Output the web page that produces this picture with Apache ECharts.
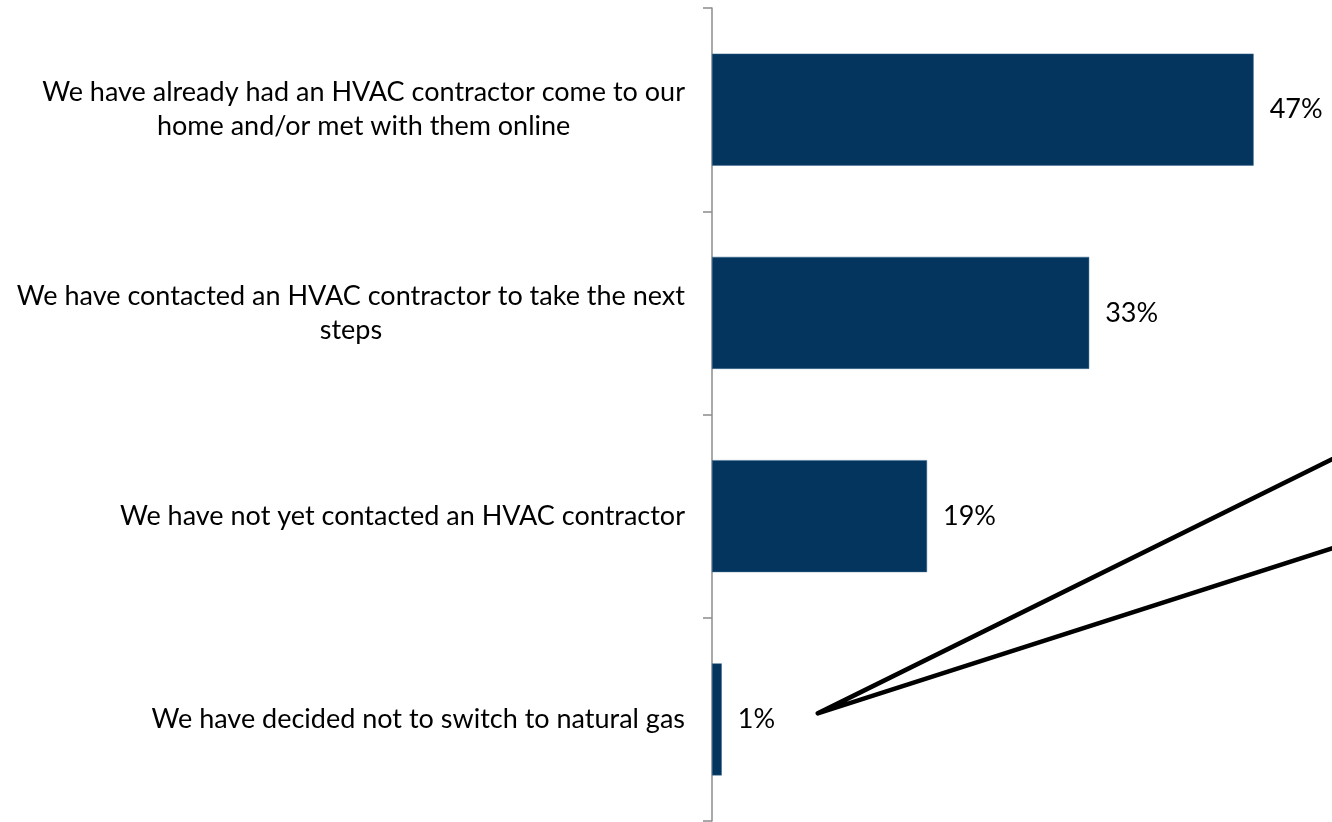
<!DOCTYPE html>
<html>
<head>
<meta charset="utf-8">
<script src="https://cdn.jsdelivr.net/npm/echarts@6/dist/echarts.min.js"></script>
<style>
  html, body { margin: 0; padding: 0; background: #fff; }
  #chart { width: 1332px; height: 822px; }
</style>
</head>
<body>
<div id="chart"></div>
<script>
// categories top to bottom
var categories = [
  'We have already had an HVAC contractor come to our\nhome and/or met with them online',
  'We have contacted an HVAC contractor to take the next\nsteps',
  'We have not yet contacted an HVAC contractor',
  'We have decided not to switch to natural gas'
];
// shares in percent
var values = [47.1, 32.8, 18.7, 0.85];

var myChart = echarts.init(document.getElementById('chart'));
var fontFamily = 'Lato, "Open Sans", sans-serif';

var option = {
  animation: false,
  grid: {
    left: 712,
    right: 45,
    top: 8,
    bottom: 1
  },
  xAxis: {
    type: 'value',
    min: 0,
    max: 50,
    show: false
  },
  yAxis: {
    type: 'category',
    inverse: true,
    data: categories,
    axisLine: {
      lineStyle: { color: '#8c8c8c', width: 1.5 }
    },
    axisTick: {
      show: true,
      length: 9,
      lineStyle: { color: '#8c8c8c', width: 1.5 }
    },
    axisLabel: {
      margin: 27,
      color: '#000',
      fontSize: 27,
      lineHeight: 34,
      align: 'right',
      fontFamily: fontFamily,
      // each line centred inside the right-anchored block
      formatter: function (v) {
        return v.split('\n').map(function (s) { return '{c|' + s + '}'; }).join('\n');
      },
      rich: {
        c: {
          align: 'center',
          color: '#000',
          fontSize: 27,
          lineHeight: 34,
          fontFamily: fontFamily
        }
      }
    }
  },
  series: [
    {
      type: 'bar',
      data: values,
      barWidth: 112,
      itemStyle: {
        color: '#03355e',
        borderColor: '#3d6a8f',
        borderWidth: 0.5
      },
      label: {
        show: true,
        position: 'right',
        distance: 16,
        color: '#000',
        fontSize: 27,
        fontFamily: fontFamily,
        formatter: function (p) { return Math.round(p.value) + '%'; }
      }
    }
  ]
};
myChart.setOption(option);

// callout lines from the 1% label
function drawCallout() {
  var last = values.length - 1;
  var p = myChart.convertToPixel({ gridIndex: 0 }, [values[last], last]);
  var sx = p[0] + 96, sy = p[1] - 6;
  var w = myChart.getWidth() + 10;
  myChart.setOption({
    graphic: [
      {
        type: 'polyline',
        shape: { points: [[w, sy - (w - sx) * 0.494], [sx, sy], [w, sy - (w - sx) * 0.321]] },
        style: { stroke: '#000', lineWidth: 4.5, fill: null, lineJoin: 'round', lineCap: 'round' }
      }
    ]
  });
}
drawCallout();
window.addEventListener('resize', function () {
  myChart.resize();
  drawCallout();
});
</script>
</body>
</html>
